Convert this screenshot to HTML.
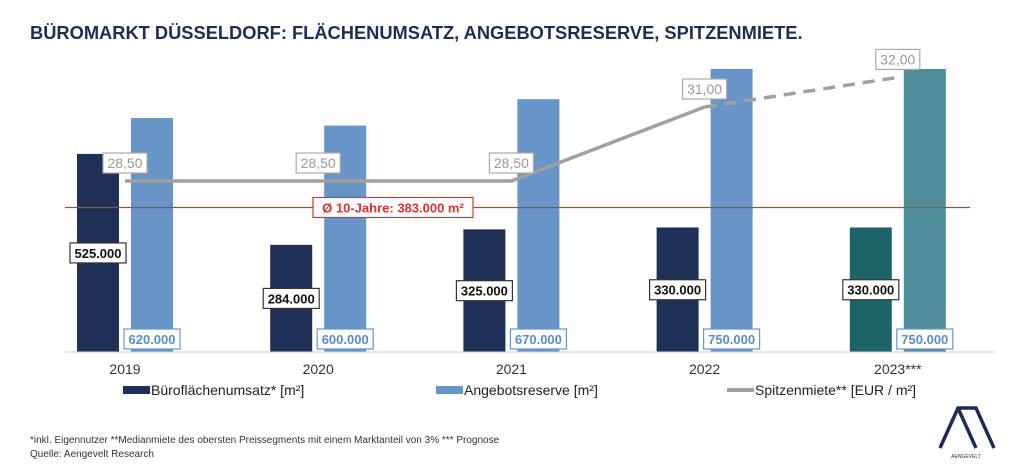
<!DOCTYPE html>
<html><head><meta charset="utf-8"><style>
body{margin:0;background:#fff;font-family:"Liberation Sans",sans-serif;}
svg text{font-family:"Liberation Sans",sans-serif;}
</style></head><body>
<svg width="1024" height="469" viewBox="0 0 1024 469">
<text x="30" y="39" font-size="18.3" font-weight="bold" fill="#1f2d52">BÜROMARKT DÜSSELDORF: FLÄCHENUMSATZ, ANGEBOTSRESERVE, SPITZENMIETE.</text>
<g id="plot"></g>
<g>
<rect x="123" y="386" width="27" height="8" fill="#1f3056"/>
<text x="151" y="395" font-size="14" fill="#222">Büroflächenumsatz* [m²]</text>
<rect x="436" y="386" width="27" height="8" fill="#6795c8"/>
<text x="464" y="395" font-size="14" fill="#222">Angebotsreserve [m²]</text>
<rect x="727" y="388" width="27" height="4" fill="#a0a0a0"/>
<text x="755" y="395" font-size="14" fill="#222">Spitzenmiete** [EUR / m²]</text>
</g>
<text x="30" y="443" font-size="10" fill="#333">*inkl. Eigennutzer **Medianmiete des obersten Preissegments mit einem Marktanteil von 3% *** Prognose</text>
<text x="30" y="457" font-size="10" fill="#333">Quelle: Aengevelt Research</text>
<g>
<path d="M940 448 L958 408 L976 408 L994 448 M958 408 L976 448" fill="none" stroke="#1f2d52" stroke-width="3.5"/>
<text x="966" y="458" font-size="5" text-anchor="middle" fill="#1f2d52">AENGEVELT</text>
</g>
</svg>
<script>
const years=["2019","2020","2021","2022","2023***"];
const umsatz=[525000,284000,325000,330000,330000];
const angebot=[620000,600000,670000,750000,750000];
const miete=[28.5,28.5,28.5,31.0,32.0];
const umsatzLabels=["525.000","284.000","325.000","330.000","330.000"];
const angebotLabels=["620.000","600.000","670.000","750.000","750.000"];
const mieteLabels=["28,50","28,50","28,50","31,00","32,00"];
const avgValue=383000;
const avgLabel="Ø 10-Jahre: 383.000 m²";

const NS="http://www.w3.org/2000/svg";
const g=document.getElementById('plot');
const base=352;
const xc=i=>125+i*193.2;
const yb=v=>base-v*283/750000;
const yl=v=>181-(v-28.5)*29.6;
function mk(t,a){const e=document.createElementNS(NS,t);for(const k in a)e.setAttribute(k,a[k]);g.appendChild(e);return e;}
function label(x,y,txt,w,col,border,bold,fs){
 const r=mk('rect',{x:x-w/2,y:y-10,width:w,height:20,fill:'#fff',stroke:border,'stroke-width':1.2});
 
 
 const t=mk('text',{x:x,y:y+5,'text-anchor':'middle','font-size':fs,fill:col,'font-weight':bold?'bold':'normal'});
 t.textContent=txt;
 
 
}
years.forEach((y,i)=>{
 const last=i===4;
 const b1=mk('rect',{x:xc(i)-48,y:yb(umsatz[i]),width:42,height:base-yb(umsatz[i]),fill:last?'#1d6469':'#1f3056'});
 
 
 const b2=mk('rect',{x:xc(i)+6,y:yb(angebot[i]),width:42,height:base-yb(angebot[i]),fill:last?'#4f8d98':'#6795c8'});
 
 
 const t=mk('text',{x:xc(i),y:374,'text-anchor':'middle','font-size':14,fill:'#333'});
 t.textContent=y;
 
 
});
const ax=mk('line',{x1:65,y1:base,x2:995,y2:base,stroke:'#d0d0d0','stroke-width':1});


const avg=mk('line',{x1:65,y1:yb(avgValue),x2:970,y2:yb(avgValue),stroke:'#e03030','stroke-width':1.2});


let pts=[];for(let i=0;i<4;i++)pts.push(xc(i)+','+yl(miete[i]));
const pl=mk('polyline',{points:pts.join(' '),fill:'none',stroke:'#a0a0a0','stroke-width':3.5});


const dl=mk('line',{x1:xc(3),y1:yl(miete[3]),x2:xc(4),y2:yl(miete[4]),stroke:'#a0a0a0','stroke-width':3.5,'stroke-dasharray':'12 8'});


label(393,yb(avgValue),avgLabel,160,'#e03030','#e03030',true,13);
years.forEach((y,i)=>{
 label(xc(i)-27,(yb(umsatz[i])+base)/2,umsatzLabels[i],56,'#111','#333',true,13);
 label(xc(i)+27,339,angebotLabels[i],56,'#5b8cc4','#6795c8',true,13);
 label(xc(i),yl(miete[i])-18,mieteLabels[i],44,'#999','#aaa',false,14);
});
</script>
</body></html>
